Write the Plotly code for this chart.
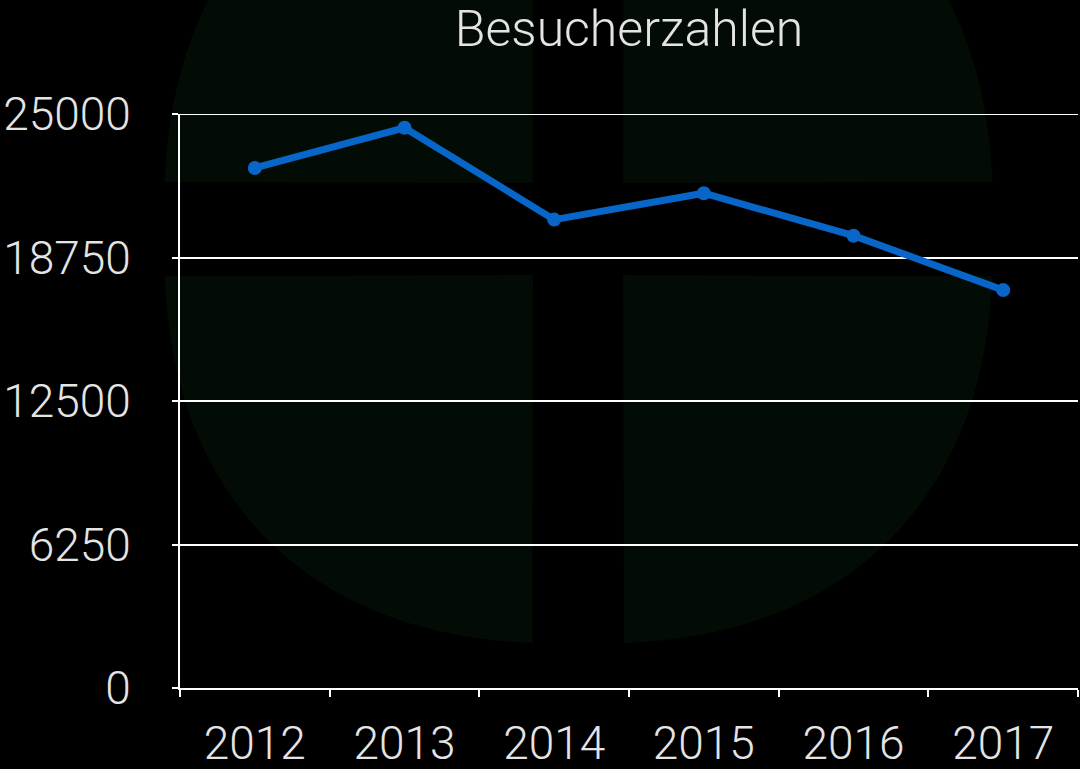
import numpy as np
import plotly.graph_objects as go

# ---- data ----
years = ["2012", "2013", "2014", "2015", "2016", "2017"]
visitors = [22650, 24400, 20400, 21550, 19700, 17330]
y_ticks = [0, 6250, 12500, 18750, 25000]
title_text = "Besucherzahlen"

# ---- layout geometry (pixels) ----
W, H = 1080, 769
L, R, T, B = 180, 2, 114, 81
PW = W - L - R
PH = H - T - B


def to_paper(px, py):
    return (px - L) / PW, (H - B - py) / PH


# ---- faint watermark (superellipse with a cross cut out) ----
cx, cy, rad, n_exp = 578.5, 229.0, 415.0, 2.4
gx0, gx1, gy0, gy1 = 533.0, 623.0, 183.0, 275.0


def se_point(t):
    c, s = np.cos(t), np.sin(t)
    x = cx + rad * np.sign(c) * np.abs(c) ** (2 / n_exp)
    y = cy - rad * np.sign(s) * np.abs(s) ** (2 / n_exp)
    return x, y


def quadrant_path(t0, t1, cond, corner):
    ts = np.linspace(t0, t1, 600)
    xs, ys = se_point(ts)
    pts = [(x, y) for x, y in zip(xs, ys) if cond(x, y)]
    pts.append(corner)
    parts = []
    for i, (x, y) in enumerate(pts):
        xp, yp = to_paper(x, y)
        parts.append(("M" if i == 0 else "L") + f"{xp:.5f},{yp:.5f}")
    return " ".join(parts) + " Z"


quads = [
    (np.pi / 2, np.pi, lambda x, y: x <= gx0 and y <= gy0, (gx0, gy0)),
    (0, np.pi / 2, lambda x, y: x >= gx1 and y <= gy0, (gx1, gy0)),
    (np.pi, 1.5 * np.pi, lambda x, y: x <= gx0 and y >= gy1, (gx0, gy1)),
    (1.5 * np.pi, 2 * np.pi, lambda x, y: x >= gx1 and y >= gy1, (gx1, gy1)),
]
shapes = []
for t0, t1, cond, corner in quads:
    shapes.append(dict(
        type="path", xref="paper", yref="paper",
        path=quadrant_path(t0, t1, cond, corner),
        fillcolor="rgb(3,11,5)", line=dict(width=0), layer="below",
    ))
# top gridline (plotly drops gridlines at the exact range end)
shapes.append(dict(
    type="line", xref="paper", yref="y", x0=0, x1=1,
    y0=y_ticks[-1], y1=y_ticks[-1],
    line=dict(color="white", width=2), layer="below",
))

fig = go.Figure()
fig.add_trace(go.Scatter(
    x=years, y=visitors, mode="lines+markers",
    line=dict(color="#0866c8", width=7),
    marker=dict(color="#0866c8", size=14),
    showlegend=False,
))

text_color = "#e4e4e4"
font_family = "Roboto, Liberation Sans, Arial, sans-serif"

fig.update_layout(
    width=W, height=H,
    margin=dict(l=L, r=R, t=T, b=B, autoexpand=False),
    paper_bgcolor="black", plot_bgcolor="rgba(0,0,0,0)",
    font=dict(family=font_family, color=text_color, weight=300),
    title=dict(text=title_text, x=0.5, xref="paper", xanchor="center",
               y=(H - 28) / H, yref="container", yanchor="middle",
               font=dict(size=50, color=text_color, family=font_family, weight=300)),
    shapes=shapes,
    xaxis=dict(
        type="category", range=[-0.5, 5.5], automargin=False,
        showline=True, linecolor="white", linewidth=2,
        ticks="outside", tickson="boundaries", ticklen=7,
        tickcolor="white", tickwidth=2,
        showgrid=False, zeroline=False,
        tickfont=dict(size=46, color=text_color, weight=300),
        ticklabelstandoff=14,
    ),
    yaxis=dict(
        range=[0, 25000], tickmode="array", tickvals=y_ticks, automargin=False,
        ticktext=[str(v) for v in y_ticks],
        showgrid=True, gridcolor="white", gridwidth=2,
        showline=True, linecolor="white", linewidth=2,
        ticks="outside", ticklen=6, tickcolor="white", tickwidth=2,
        zeroline=False,
        tickfont=dict(size=46, color=text_color, weight=300),
        ticklabelstandoff=32,
    ),
)

fig.write_html(
    "out.html",
    config={"displayModeBar": False},
    post_script="document.body.style.margin='0';document.body.style.overflow='hidden';",
)
